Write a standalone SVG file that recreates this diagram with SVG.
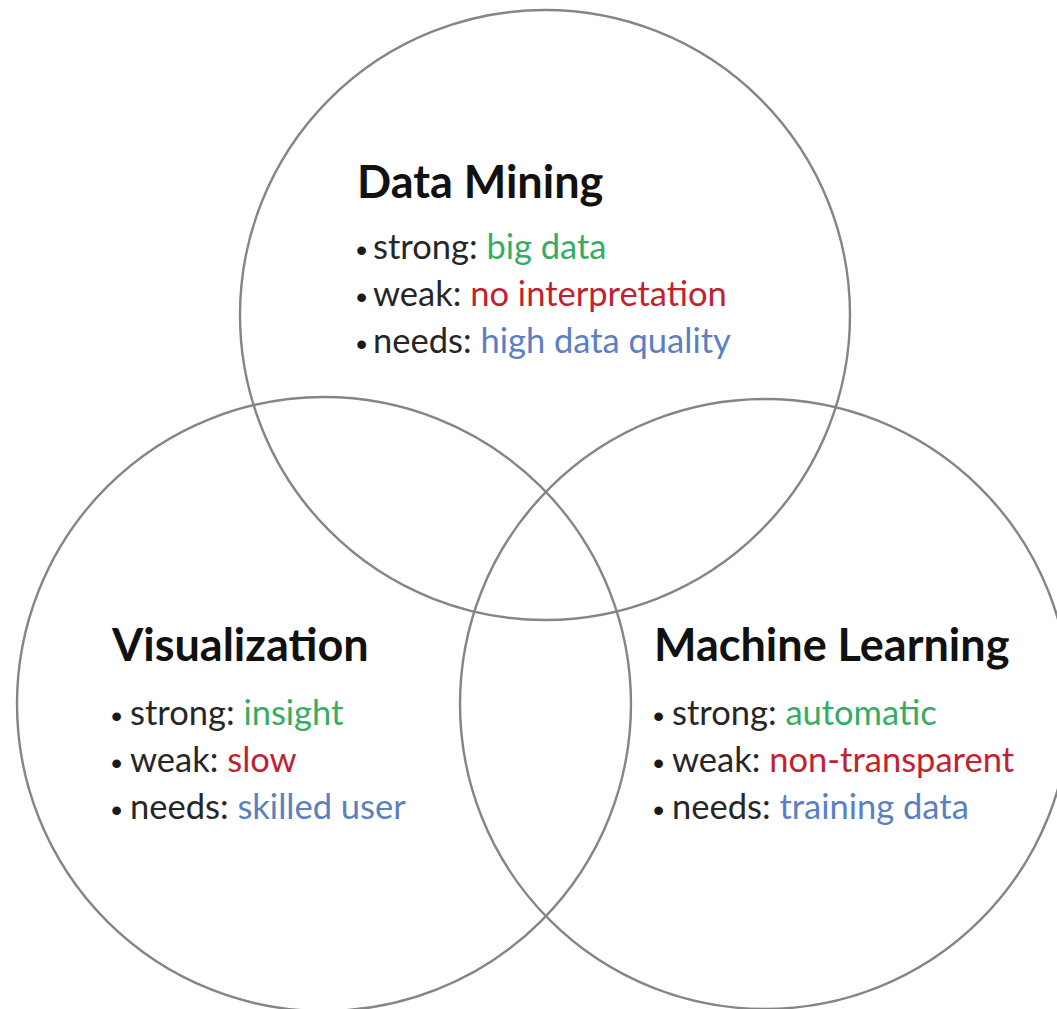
<svg xmlns="http://www.w3.org/2000/svg" width="1057" height="1009" viewBox="0 0 1057 1009">
<style>
.c{fill:none;stroke:#858585;stroke-width:2.4}
.t{font-family:Lato,"Open Sans","Liberation Sans",sans-serif;font-weight:bold;font-size:45px;fill:#111}
.b{font-family:Lato,"Open Sans","Liberation Sans",sans-serif;font-size:34.5px;fill:#262626}
.d{font-family:"Liberation Sans",sans-serif;font-size:32px;fill:#1a1a1a}
.g{fill:#34ad62}.r{fill:#c2222f}.u{fill:#5b80c2}
</style>
<rect width="1057" height="1009" fill="#fff"/>
<g id="circles">
<circle class="c" cx="545" cy="315" r="305"/>
<circle class="c" cx="324" cy="704" r="307"/>
<circle class="c" cx="765" cy="704" r="305"/>
</g>
<g id="data-mining">
<text class="t" x="357" y="198">Data Mining</text>
<text class="d" x="356" y="261">•</text><text class="b" x="373" y="259">strong: <tspan class="g">big data</tspan></text>
<text class="d" x="356" y="308">•</text><text class="b" x="373" y="306">weak: <tspan class="r">no interpretation</tspan></text>
<text class="d" x="356" y="355">•</text><text class="b" x="373" y="353">needs: <tspan class="u">high data quality</tspan></text>
</g>
<g id="visualization">
<text class="t" x="112" y="661">Visualization</text>
<text class="d" x="111" y="727">•</text><text class="b" x="130" y="725">strong: <tspan class="g">insight</tspan></text>
<text class="d" x="111" y="774">•</text><text class="b" x="130" y="772">weak: <tspan class="r">slow</tspan></text>
<text class="d" x="111" y="821">•</text><text class="b" x="130" y="819">needs: <tspan class="u">skilled user</tspan></text>
</g>
<g id="machine-learning">
<text class="t" x="654" y="661">Machine Learning</text>
<text class="d" x="653" y="727">•</text><text class="b" x="672" y="725">strong: <tspan class="g">automatic</tspan></text>
<text class="d" x="653" y="774">•</text><text class="b" x="672" y="772">weak: <tspan class="r">non-transparent</tspan></text>
<text class="d" x="653" y="821">•</text><text class="b" x="672" y="819">needs: <tspan class="u">training data</tspan></text>
</g>
</svg>
